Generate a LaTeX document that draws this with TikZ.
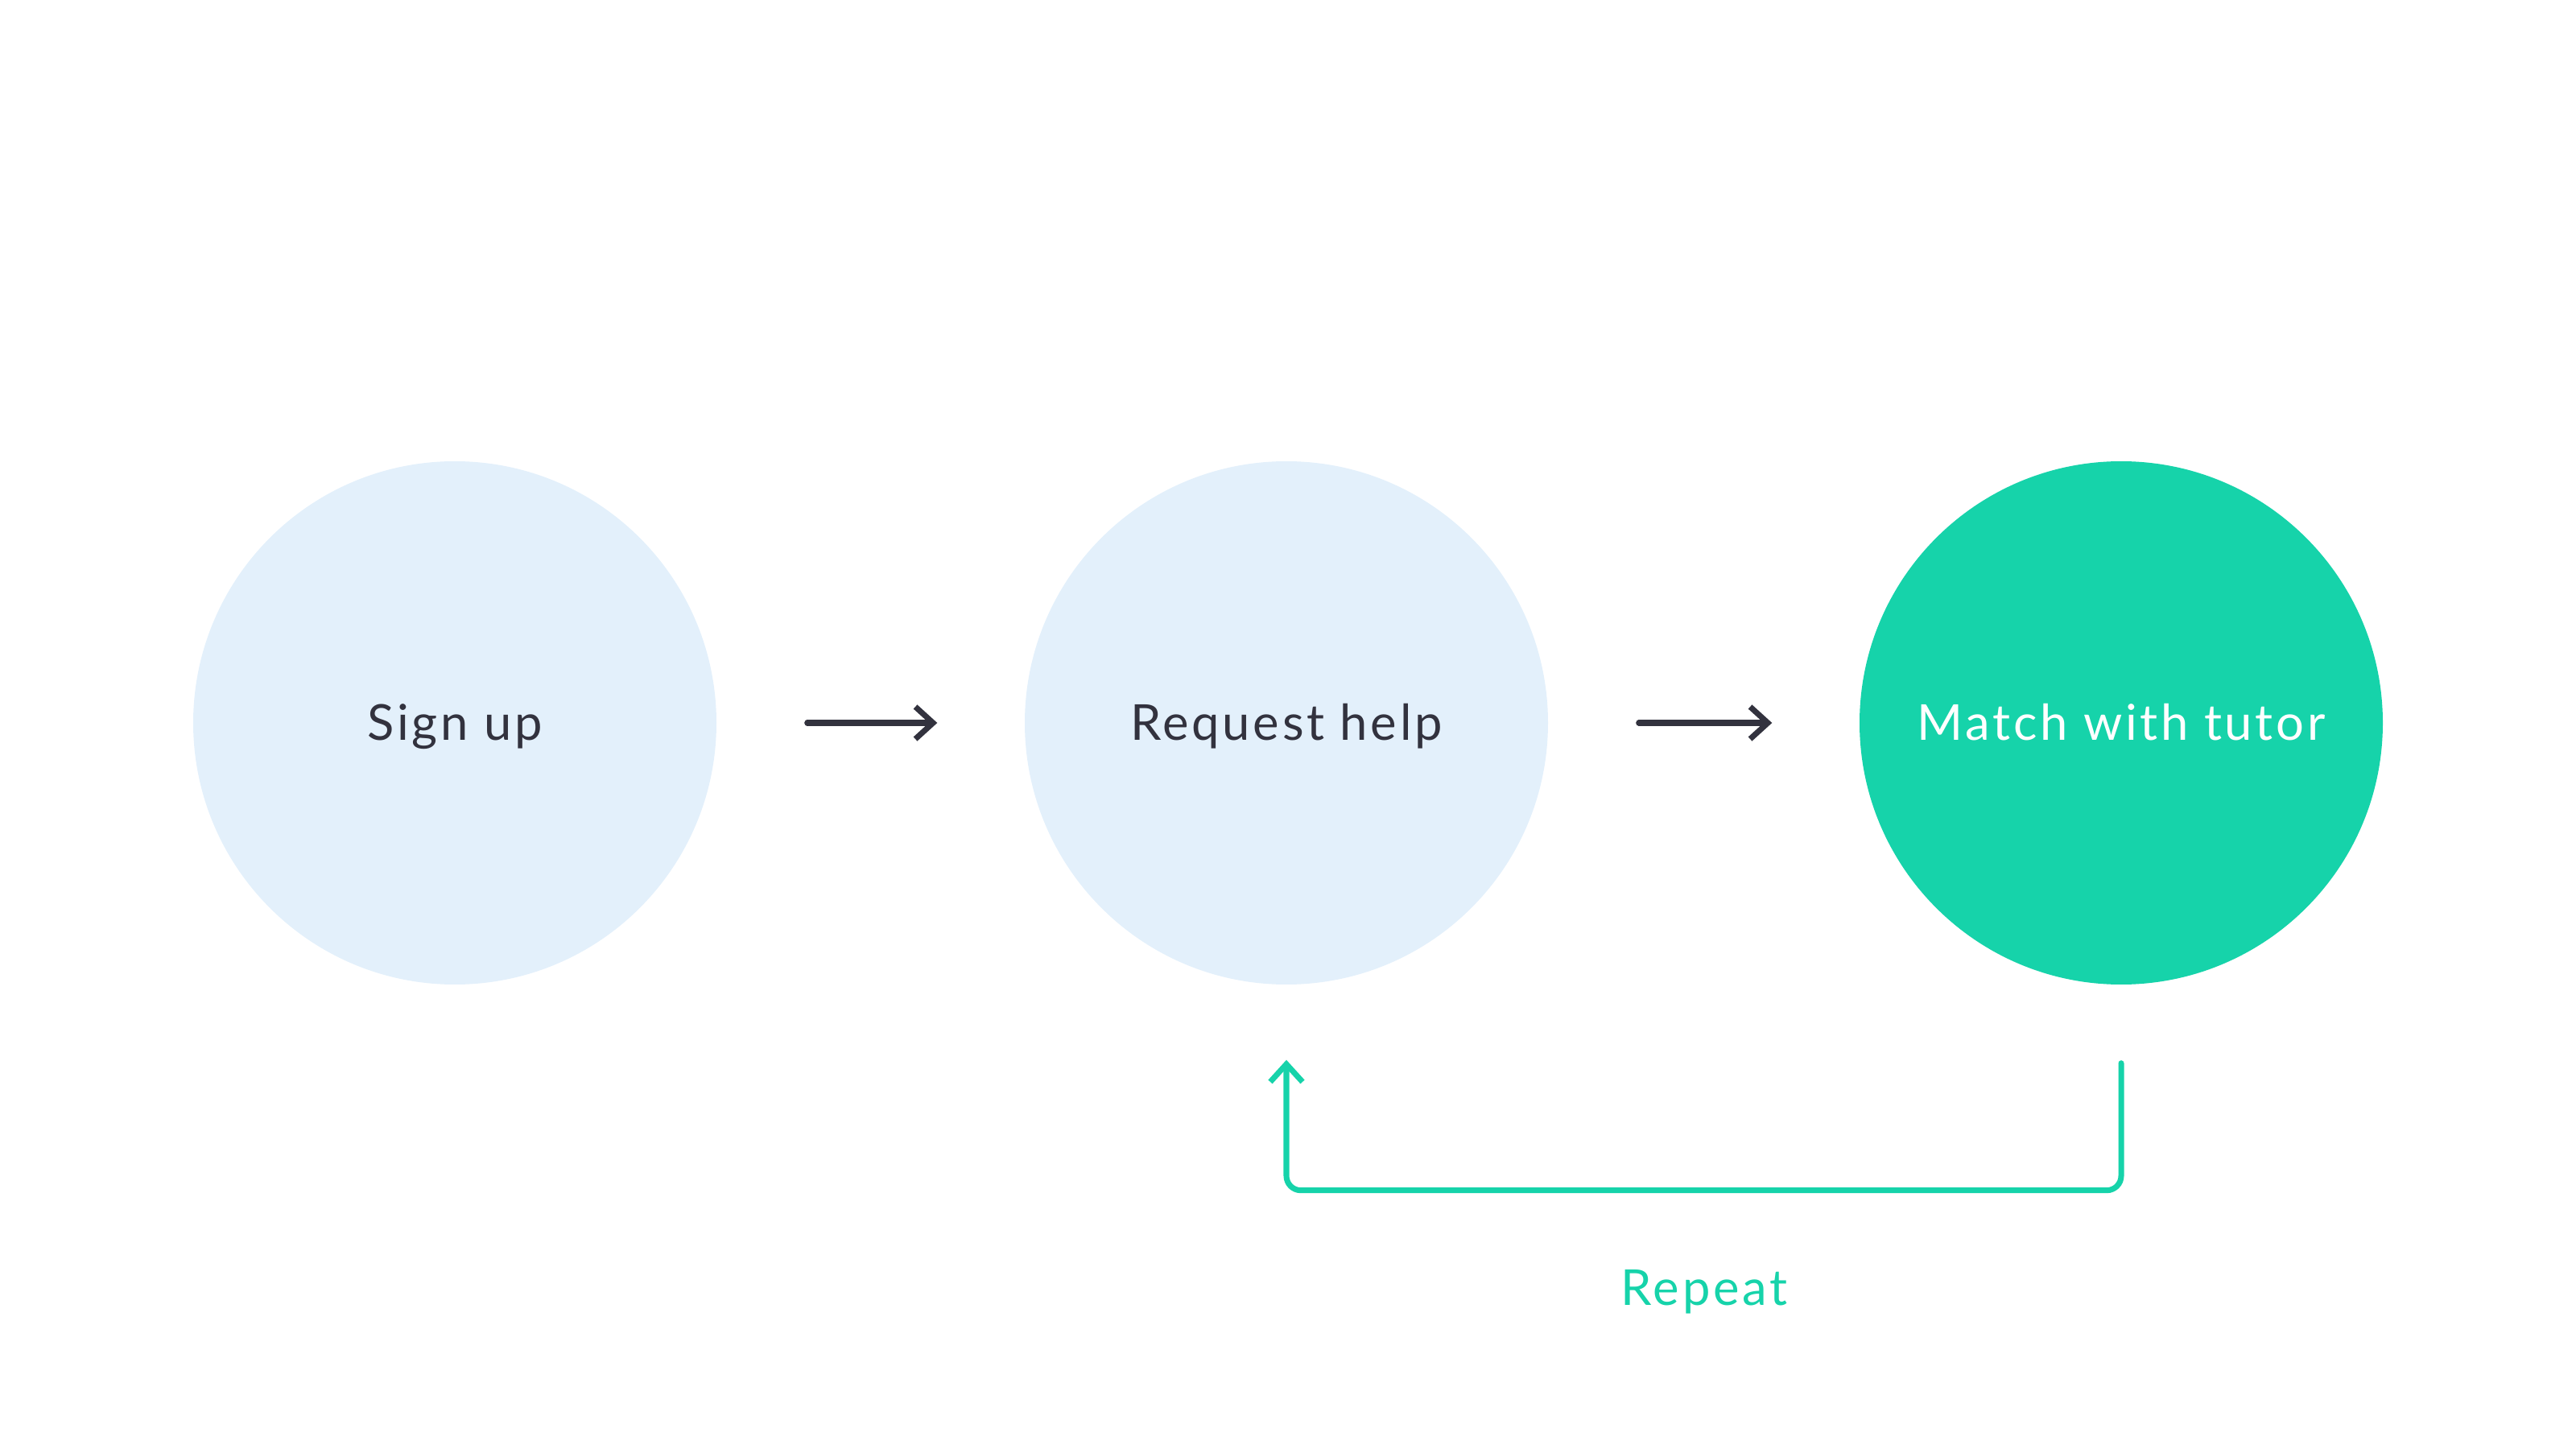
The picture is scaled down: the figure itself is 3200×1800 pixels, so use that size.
\documentclass[tikz,border=0pt]{standalone}
\usepackage{fontspec}
\setmainfont{Lato}[LetterSpace=6]
\usetikzlibrary{arrows.meta}
\definecolor{inkdark}{HTML}{32323E}
\definecolor{paleblue}{HTML}{E3F0FB}
\definecolor{mint}{HTML}{16D3AA}
\begin{document}
\begin{tikzpicture}[x=0.1mm, y=-0.1mm, >={Straight Barb[length=2.2mm, width=4mm]},
  step circ/.style={circle, minimum size=65mm, inner sep=0pt, text height=12.5pt, text depth=0pt, font=\fontsize{17.5}{21}\selectfont},
  flow/.style={->, draw=inkdark, line width=2pt, line cap=round},
  loopback/.style={->, draw=mint, line width=2pt, line cap=round, rounded corners=1.8mm}]
  \useasboundingbox (0,0) rectangle (3200,1800);
  \node[step circ, fill=paleblue, text=inkdark] (signup) at (565,898) {Sign up};
  \node[step circ, fill=paleblue, text=inkdark] (help) at (1598,898) {Request help};
  \node[step circ, fill=mint, text=white] (match) at (2635,898) {Match with tutor};
  \draw[flow] ([xshift=11.2mm]signup.east) -- ([xshift=-10.8mm]help.west);
  \draw[flow] ([xshift=11.2mm]help.east) -- ([xshift=-10.8mm]match.west);
  \draw[loopback] ([yshift=-9.7mm]match.south) -- ++(0,158) -| ([yshift=-9.3mm]help.south);
  \node[text=mint, text height=12.5pt, text depth=0pt, font=\fontsize{17.5}{21}\selectfont] (repeatlbl) at (2117,1600) {Repeat};
\end{tikzpicture}
\end{document}
